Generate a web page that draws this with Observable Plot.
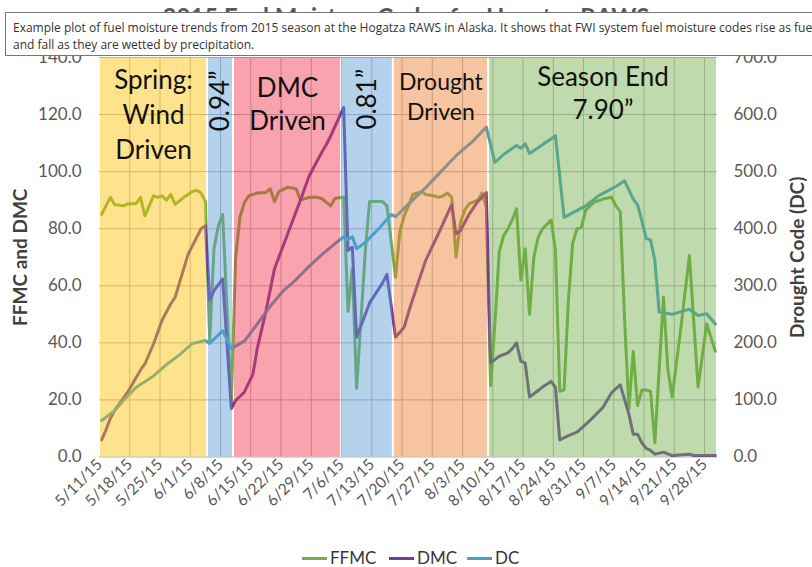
<!DOCTYPE html>
<html>
<head>
<meta charset="utf-8">
<script src="https://cdn.jsdelivr.net/npm/d3@7"></script>
<script src="https://cdn.jsdelivr.net/npm/@observablehq/plot@0.6"></script>
<style>
  html, body { margin: 0; padding: 0; background: #fff; }
  body { width: 812px; height: 567px; overflow: hidden; position: relative; font-family: Lato, "Open Sans", sans-serif; }
  #chart { position: absolute; left: 0; top: 0; }
  #title { position: absolute; left: 0; top: 2px; width: 812px; text-align: center; font: bold 24px/29px Lato, sans-serif; color: #595959; white-space: nowrap; }
  #tip { position: absolute; left: 5px; top: 12px; width: 1000px; height: 44px; border: 1px solid #767676; background: #fff; box-sizing: border-box; padding: 6px 0 0 7px; font: 12px/17px "Open Sans", sans-serif; color: #333; white-space: nowrap; }
  #legend { position: absolute; top: 548px; left: 0; width: 812px; height: 20px; }
  .li { position: absolute; top: 0; display: flex; align-items: center; font: 17px/20px Lato, sans-serif; color: #383838; }
  .sw { display: inline-block; width: 25px; height: 3px; margin-right: 3px; }
</style>
</head>
<body>
<div id="chart"></div>
<div id="title">2015 Fuel Moisture Codes for Hogatza RAWS</div>
<div id="tip">Example plot of fuel moisture trends from 2015 season at the Hogatza RAWS in Alaska. It shows that FWI system fuel moisture codes rise as fuels dry<br>and fall as they are wetted by precipitation.</div>
<div id="legend"></div>
<script>
// ---------------- DATA ----------------
const seriesNames = ["FFMC", "DMC", "DC"];

const ffmcDates = ["5/11","5/13","5/14","5/16","5/17","5/19","5/20","5/21","5/23","5/24","5/25","5/26","5/27","5/28","5/30","5/31",
  "6/1","6/2","6/3","6/4","6/5","6/6","6/7","6/8","6/10","6/11","6/12","6/13","6/14","6/16","6/18","6/19","6/20","6/21","6/23","6/25","6/26","6/28","6/30",
  "7/1","7/3","7/4","7/6","7/7","7/8","7/9","7/11","7/12","7/15","7/16","7/18","7/19","7/20","7/21","7/22","7/24","7/25","7/27","7/28","7/29","7/30","7/31",
  "8/1","8/2","8/3","8/4","8/6","8/7","8/8","8/9","8/10","8/11","8/12","8/13","8/14","8/15","8/16","8/17","8/18","8/19","8/20","8/21","8/23","8/24","8/25","8/26","8/27","8/28","8/29","8/30","8/31",
  "9/1","9/2","9/4","9/6","9/7","9/8","9/9","9/10","9/11","9/12","9/13","9/14","9/15","9/16","9/18","9/19","9/20","9/22","9/24","9/26","9/28","9/30"];
const ffmcValues = [85,91,88.5,88,88.7,88.8,91,84.5,91.5,91,91.5,90,92,88.5,91,92,
  93,93.5,92.5,89.5,41,73,81,85,19,70,84,89,91.5,92.5,92.7,94,89.5,93,94.5,94,90,91,91,
  90.5,88,90.7,91,51,66,24,72,89.5,89.5,88,63,79,84.5,88,92,93,92,91.5,91,91.5,92.5,91,
  70,82,86.5,88.7,90,92.5,87.5,25,47,72,77.5,80,83,87,62,73,50,70,77,80,83,72.5,23,23.5,55,75,80,80.5,86.5,
  88,89.3,90.4,91,88,86,48,17,37,18,23.5,23.5,23,5,56,31,21,45,70.6,24.5,46.6,37];

const dmcDates = ["5/11","5/12","5/13","5/14","5/17","5/20","5/21","5/23","5/25","5/27","5/28","5/29","5/31",
  "6/2","6/3","6/4","6/5","6/6","6/8","6/10","6/11","6/13","6/15","6/16","6/18","6/20","6/25","6/26","6/28",
  "7/1","7/2","7/3","7/6","7/7","7/8","7/9","7/12","7/15","7/16","7/18","7/20","7/21","7/23","7/25","7/28","7/31",
  "8/1","8/2","8/4","8/6","8/7","8/8","8/9","8/11","8/13","8/14","8/15","8/16","8/17","8/18","8/20","8/21","8/23","8/24","8/25","8/27","8/29","8/30",
  "9/1","9/4","9/6","9/7","9/8","9/10","9/11","9/12","9/13","9/14","9/15","9/16","9/18","9/20","9/24","9/25","9/30"];
const dmcValues = [6,9.5,13.5,16.3,22.7,30.5,32.6,39.6,48,53.7,56,61,71,
  77,80,81,55,58.3,62.4,17,19.8,22.7,29,38,51,66,86,90,98.5,
  107,109.5,112.5,122.5,72.3,73.5,42,54,61,64,42,45.5,50.7,60,69,78.5,88.5,
  78.2,79.3,85,89.5,91,92.7,33,35.3,36.5,38,40,33.5,33,21,23.3,24.5,26.5,24.4,6,7.5,8.7,10,
  12.8,17.4,22.5,24,25.3,15,8,8,5,3,2.3,1,1.7,0.5,1,0.5,0.5];

const dcDates = ["5/11","5/14","5/16","5/19","5/23","5/26","5/29","6/1","6/4","6/5","6/8","6/10","6/13","6/16","6/19","6/22","6/25","6/28",
  "7/1","7/4","7/6","7/7","7/8","7/9","7/11","7/14","7/17","7/18","7/21","7/25","7/29",
  "8/1","8/5","8/8","8/10","8/12","8/15","8/16","8/17","8/18","8/21","8/24","8/26","8/31",
  "9/3","9/7","9/9","9/11","9/12","9/13","9/14","9/15","9/16","9/17","9/20","9/24","9/26","9/28","9/30"];
const dcValues = [64,81,99,122,142,162,179,199,204,199,221,190,203,233,264,291,311,334,
  355,374,386,381,386,365,376,399,425,421,443,472,504,
  528,554,578,516,530,546,541,549,532,547,563,420,440,
  458,474,484,452,442,414,383,380,345,254,250,259,248,251,233];

// coloured periods (start inclusive, end exclusive) and their labels
const bandStarts = ["5/11","6/5","6/11","7/6","7/18","8/9"];
const bandEnds   = ["6/5","6/11","7/6","7/18","8/9","10/1"];
const bandLabels = ["Spring:\nWind\nDriven", "0.94”", "DMC\nDriven", "0.81”", "Drought\nDriven", "Season End\n7.90”"];

const leftTicks = [0, 20, 40, 60, 80, 100, 120, 140];
const dcPerLeftUnit = 5; // right axis: 0-700 against 0-140
const weekTicks = ["5/11","5/18","5/25","6/1","6/8","6/15","6/22","6/29","7/6","7/13","7/20","7/27","8/3","8/10","8/17","8/24","8/31","9/7","9/14","9/21","9/28"];

// ---------------- HELPERS ----------------
const toDate = s => { const [m, d] = s.split("/").map(Number); return new Date(Date.UTC(2015, m - 1, d)); };
const HALF_DAY = 12 * 3600 * 1000;
const atNoon = s => new Date(toDate(s).getTime() + HALF_DAY);

const lineColors = {FFMC: "#72AE44", DMC: "#6E3FA0", DC: "#43A0C6"};
const bandFills = ["#FFC000", "#5B9BD5", "#F0344C", "#5B9BD5", "#ED7D31", "#70AD47"];

const rows = [];
ffmcDates.forEach((d, i) => rows.push({series: "FFMC", date: atNoon(d), y: ffmcValues[i]}));
dmcDates.forEach((d, i) => rows.push({series: "DMC", date: atNoon(d), y: dmcValues[i]}));
dcDates.forEach((d, i) => rows.push({series: "DC", date: atNoon(d), y: dcValues[i] / dcPerLeftUnit}));

const bands = bandStarts.map((s, i) => ({
  start: toDate(s), end: toDate(bandEnds[i]), label: bandLabels[i], idx: i,
  mid: new Date((toDate(s).getTime() + toDate(bandEnds[i]).getTime()) / 2)
}));

const labelY = [120.5, 124.8, 124.2, 125.4, 126.8, 128.0]; // layout of band captions (value units)
const labelStyle = [
  {fontSize: 26, lineHeight: 1.35}, null, {fontSize: 26, lineHeight: 1.3}, null,
  {fontSize: 23, lineHeight: 1.3}, {fontSize: 26, lineHeight: 1.3}
];

const tickDates = weekTicks.map(toDate);
const fmtTick = d => `${d.getUTCMonth() + 1}/${d.getUTCDate()}/15`;

const horizontalLabelMarks = bands.filter(b => labelStyle[b.idx]).map(b =>
  Plot.text([b], {x: "mid", y: () => labelY[b.idx], text: "label", fill: "#111",
    fontFamily: "Lato", fontSize: labelStyle[b.idx].fontSize, lineHeight: labelStyle[b.idx].lineHeight,
    textAnchor: "middle", lineAnchor: "middle"}));

const chart = Plot.plot({
  width: 812,
  height: 540,
  marginLeft: 99,
  marginRight: 95,
  marginTop: 57,
  marginBottom: 83.5,
  style: {fontFamily: "Lato, sans-serif", color: "#595959", background: "transparent", overflow: "visible"},
  x: {type: "utc", domain: [toDate("5/11"), toDate("10/1")]},
  y: {domain: [0, 140]},
  marks: [
    Plot.ruleY(leftTicks, {stroke: "#b4b4b4", strokeWidth: 1}),
    Plot.ruleX(tickDates.slice(1), {stroke: "#b4b4b4", strokeWidth: 1}),
    Plot.line(rows, {x: "date", y: "y", z: "series", stroke: d => lineColors[d.series], strokeWidth: 3, strokeLinejoin: "round", curve: "linear"}),
    Plot.rect(bands, {x1: "start", x2: "end", fill: d => bandFills[d.idx], fillOpacity: 0.45, insetLeft: 1, insetRight: 1}),
    ...horizontalLabelMarks,
    Plot.text(bands.filter(b => !labelStyle[b.idx]), {x: "mid", y: b => labelY[b.idx], text: "label", rotate: -90,
      fill: "#111", fontFamily: "Lato", fontSize: 26, textAnchor: "middle", lineAnchor: "middle"}),
    Plot.axisY({anchor: "left", ticks: leftTicks, tickFormat: d => d.toFixed(1), tickSize: 0, tickPadding: 18, fontSize: 17, label: null}),
    Plot.axisY({anchor: "right", ticks: leftTicks, tickFormat: d => (d * dcPerLeftUnit).toFixed(1), tickSize: 0, tickPadding: 16, fontSize: 17, label: null}),
    Plot.axisX({ticks: tickDates, tickFormat: fmtTick, tickRotate: -45, tickSize: 0, tickPadding: 5, fontSize: 15.5, label: null}),
    Plot.text(["FFMC and DMC"], {frameAnchor: "left", dx: -79, rotate: -90, textAnchor: "middle", lineAnchor: "middle", fontWeight: "bold", fontSize: 19, fill: "#404040", fontFamily: "Lato"}),
    Plot.text(["Drought Code (DC)"], {frameAnchor: "right", dx: 80, rotate: -90, textAnchor: "middle", lineAnchor: "middle", fontWeight: "bold", fontSize: 19, fill: "#404040", fontFamily: "Lato"})
  ]
});
document.getElementById("chart").appendChild(chart);

// legend
const legend = document.getElementById("legend");
const legendLeft = [302, 389, 467];
seriesNames.forEach((name, i) => {
  const item = document.createElement("div");
  item.className = "li";
  item.style.left = legendLeft[i] + "px";
  const sw = document.createElement("span");
  sw.className = "sw";
  sw.style.background = lineColors[name];
  item.appendChild(sw);
  item.appendChild(document.createTextNode(name));
  legend.appendChild(item);
});
</script>
</body>
</html>
